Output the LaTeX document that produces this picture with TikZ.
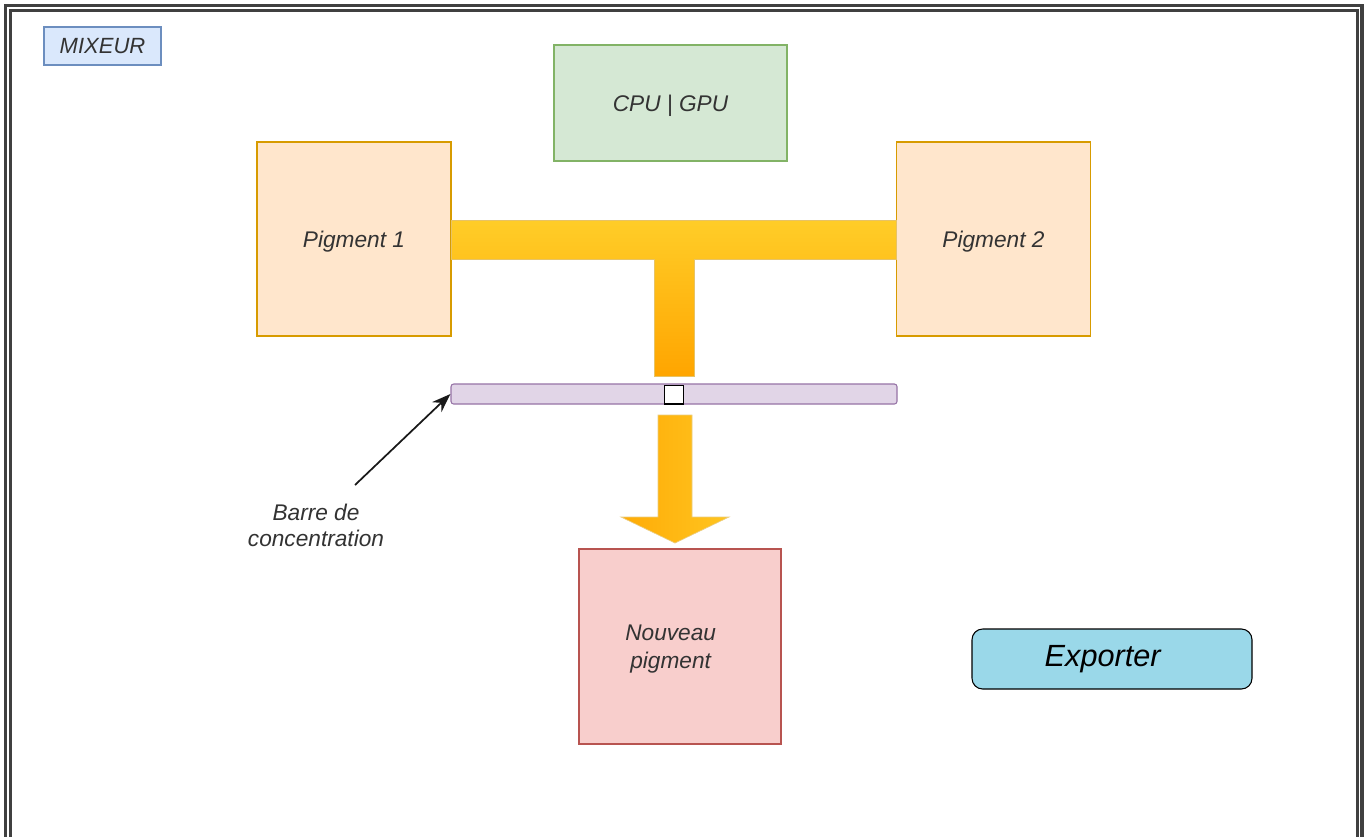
\documentclass[tikz,border=0pt]{standalone}
\usepackage{fontspec}
\setmainfont{Liberation Sans}
\usetikzlibrary{arrows.meta}
\definecolor{ink}{HTML}{333333}
\definecolor{bluebg}{HTML}{DAE8FC}
\definecolor{bluedraw}{HTML}{6C8EBF}
\definecolor{greenbg}{HTML}{D5E8D4}
\definecolor{greendraw}{HTML}{82B366}
\definecolor{orangebg}{HTML}{FFE6CC}
\definecolor{orangedraw}{HTML}{D79B00}
\definecolor{redbg}{HTML}{F8CECC}
\definecolor{reddraw}{HTML}{B85450}
\definecolor{purplebg}{HTML}{E1D5E7}
\definecolor{purpledraw}{HTML}{9673A6}
\definecolor{cyanbg}{HTML}{9AD8E9}
\definecolor{tuyauhaut}{HTML}{FFCD28}
\definecolor{tuyaubas}{HTML}{FFA500}
\tikzset{
  boite/.style={rectangle,align=center,inner sep=0pt,line width=0.8pt,text depth=0pt,
    font=\fontsize{17}{20}\selectfont\itshape,text=ink},
  boiteb/.style={boite,draw=bluedraw,fill=bluebg},
  boitev/.style={boite,draw=greendraw,fill=greenbg},
  boiteo/.style={boite,draw=orangedraw,fill=orangebg},
  boiter/.style={boite,draw=reddraw,fill=redbg},
  barre/.style={rectangle,rounded corners=2pt,draw=purpledraw,fill=purplebg,line width=0.8pt},
  curseur/.style={rectangle,draw=black,fill=white,line width=1pt,inner sep=0pt},
  bouton/.style={rectangle,rounded corners=8pt,draw=black,fill=cyanbg,line width=0.8pt,
    font=\fontsize{23}{26}\selectfont\itshape,text=black},
  tuyau/.style={draw=orangedraw!60,line width=0.5pt,top color=tuyauhaut,bottom color=tuyaubas},
  fleche/.style={draw=orangedraw!50,line width=0.5pt,left color=tuyaubas!85!tuyauhaut,right color=tuyauhaut!80!tuyaubas},
  ar/.style={-{Stealth[length=5mm,width=3.6mm]},line width=1.3pt,draw=black!90},
  lbl/.style={align=center,font=\fontsize{17}{19.5}\selectfont\itshape,text=ink},
}

\begin{document}
\begin{tikzpicture}[x=0.75pt,y=-0.75pt]
  \useasboundingbox[fill=white] (0,0) rectangle (1370,836);
  % cadre
  \draw[line width=2.4pt,double=white,double distance=1.2pt,draw=black!75] (8,8) rectangle (1359.5,870);
  % boites
  \node[boiteb,minimum width=87.75pt,minimum height=28.5pt] (mix) at (102.5,46) {\fontsize{16.5}{19}\selectfont MIXEUR};
  \node[boitev,minimum width=174.75pt,minimum height=87pt] (cpu) at (670.5,103) {CPU | GPU};
  \node[boiteo,minimum width=145.5pt,minimum height=145.5pt] (p1) at (354,239) {Pigment 1};
  \node[boiteo,minimum width=145pt,minimum height=145.5pt] (p2) at (993.5,239) {Pigment 2};
  % tuyau en T
  \path[tuyau] (p1.east |- 0,220) -- (p2.west |- 0,220) -- (p2.west |- 0,259) -- (694,259)
    -- (694,376) -- (654,376) -- (654,259) -- (p1.east |- 0,259) -- cycle;
  % barre de concentration
  \node[barre,minimum width=334.5pt,minimum height=15pt] (bar) at (674,394) {};
  \node[curseur,minimum width=14.5pt,minimum height=14pt] (cur) at (674,394.5) {};
  % fleche vers le nouveau pigment
  \path[fleche] (658,415) -- (692,415) -- (692,517) -- (729,517) -- (675,543)
    -- (621,517) -- (658,517) -- cycle;
  \node[boiter,minimum width=151.5pt,minimum height=146.25pt] (new) at (680,646.5) {Nouveau\hspace*{14pt}\\[1pt]pigment\hspace*{14pt}};
  \node[bouton,minimum width=210pt,minimum height=45pt] (exp) at (1112,659) {Exporter\hspace*{14pt}};
  % legende
  \node[lbl] (leg) at (316,525) {Barre de\\concentration};
  \coordinate (queue) at (355,485);
  \draw[ar] (queue) -- (bar.west);
\end{tikzpicture}
\end{document}
